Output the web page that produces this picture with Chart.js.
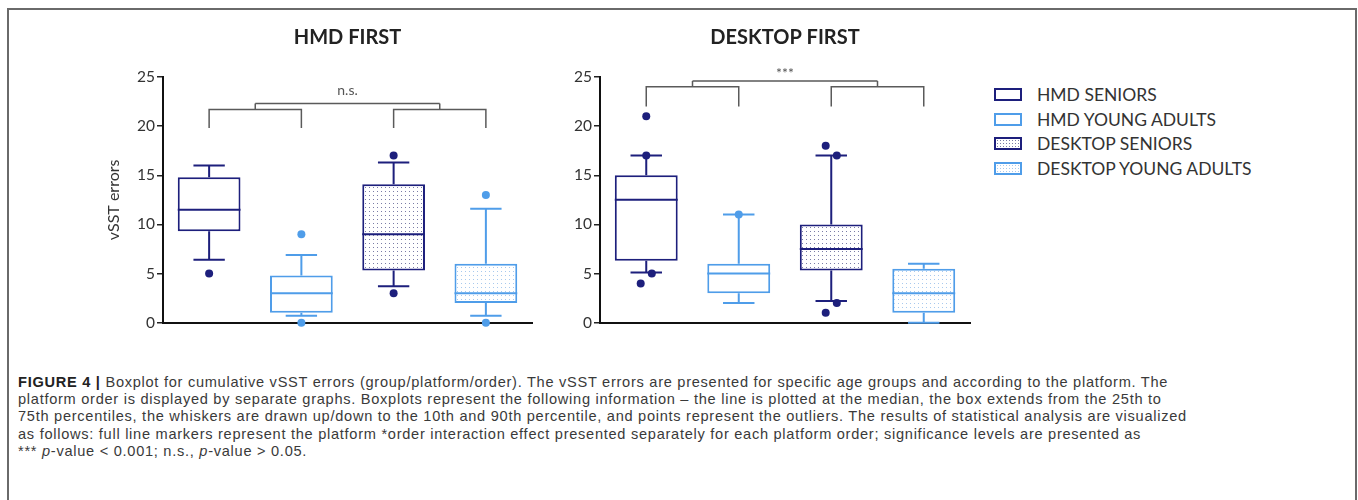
<!DOCTYPE html>
<html lang="en">
<head>
  <meta charset="UTF-8">
  <title>Figure 4 - cumulative vSST errors</title>
  <script src="https://cdn.jsdelivr.net/npm/chart.js"></script>
  <style>
    body {
      margin: 0;
      width: 1358px;
      height: 500px;
      background: #fff;
      position: relative;
      overflow: hidden;
      font-family: Lato, sans-serif;
    }
    .frame {
      position: absolute;
      left: 7px;
      top: 8px;
      width: 1346px;
      height: 500px;
      border: 2px solid #6a6a6a;
      border-bottom: none;
    }
    .plot { position: absolute; top: 14px; height: 320px; }
    #hmdWrap { left: 60px; width: 480px; }
    #dskWrap { left: 545px; width: 435px; }

    .legend { position: absolute; left: 994px; top: 82px; }
    .legend .row {
      height: 24.7px;
      display: flex;
      align-items: center;
      font-size: 17.5px;
      color: #333;
    }
    .swatch {
      width: 28px;
      height: 13px;
      box-sizing: border-box;
      border: 2px solid;
      margin-right: 15px;
      background: #fff;
    }
    .caption {
      position: absolute;
      left: 18px;
      top: 374px;
      font-family: "Liberation Sans", Arial, sans-serif;
      font-size: 14.6px;
      letter-spacing: 0.72px;
      line-height: 17.2px;
      color: #3a3a3a;
      white-space: nowrap;
    }
    .caption b { color: #222; }
  </style>
</head>
<body>
  <div class="frame"></div>
  <div class="plot" id="hmdWrap"><canvas id="hmdChart"></canvas></div>
  <div class="plot" id="dskWrap"><canvas id="dskChart"></canvas></div>

  <div class="legend" id="legend"></div>

  <div class="caption">
    <div><b>FIGURE 4 |</b> Boxplot for cumulative vSST errors (group/platform/order). The vSST errors are presented for specific age groups and according to the platform. The</div>
    <div>platform order is displayed by separate graphs. Boxplots represent the following information – the line is plotted at the median, the box extends from the 25th to</div>
    <div>75th percentiles, the whiskers are drawn up/down to the 10th and 90th percentile, and points represent the outliers. The results of statistical analysis are visualized</div>
    <div>as follows: full line markers represent the platform *order interaction effect presented separately for each platform order; significance levels are presented as</div>
    <div>*** <i>p</i>-value &lt; 0.001; n.s., <i>p</i>-value &gt; 0.05.</div>
  </div>

  <script>
    // groups, in plotting order
    const groups = ['HMD SENIORS', 'HMD YOUNG ADULTS', 'DESKTOP SENIORS', 'DESKTOP YOUNG ADULTS'];
    const groupIndex = [0, 1, 2, 3];
    const yTicks = [0, 5, 10, 15, 20, 25];

    // HMD FIRST (10th, 25th, median, 75th, 90th percentile)
    const hmdLow = [6.4, 0.7, 3.7, 0.7];
    const hmdQ1 = [9.3, 1.0, 5.3, 2.0];
    const hmdMedian = [11.5, 3.0, 9.0, 3.0];
    const hmdQ3 = [14.8, 4.8, 14.1, 6.0];
    const hmdHigh = [16.0, 6.9, 16.3, 11.6];
    const hmdOutX = [0, 1, 1, 2, 2, 3, 3];
    const hmdOutY = [5, 9, 0, 17, 3, 13, 0];

    // DESKTOP FIRST
    const dskLow = [5.1, 2.0, 2.2, 0];
    const dskQ1 = [6.3, 3.0, 5.3, 1.0];
    const dskMedian = [12.5, 5.0, 7.5, 3.0];
    const dskQ3 = [15.0, 6.0, 10.0, 5.5];
    const dskHigh = [17.0, 11.0, 17.0, 6.0];
    const dskOutX = [0, 0, -0.06, 0.06, 1, 1.94, 2.06, 2.06, 1.94];
    const dskOutY = [21, 17, 4, 5, 11, 18, 17, 2, 1];

    // significance brackets: leg bottom, arm level, top level, label level
    const hmdBracket = [19.8, 21.7, 22.3, 23.2];
    const dskBracket = [22.0, 24.0, 24.6, 24.85];
    const hmdSig = 'n.s.';
    const dskSig = '***';

    const DARK = '#1d1f7c';
    const LIGHT = '#4f9de9';
    const boxColors = [DARK, LIGHT, DARK, LIGHT];

    function dotPattern(dot) {
      const c = document.createElement('canvas');
      c.width = 4; c.height = 4;
      const g = c.getContext('2d');
      g.fillStyle = '#fff';
      g.fillRect(0, 0, 4, 4);
      g.fillStyle = dot;
      g.fillRect(1, 1, 1, 1);
      return g.createPattern(c, 'repeat');
    }
    const darkDots = dotPattern('#7a7ca6');
    const lightDots = dotPattern('#a8c9ee');
    const boxFills = ['#fff', '#fff', darkDots, lightDots];

    function boxPlugin(low, med, high, bracket, sig) {
      return {
        id: 'boxParts',
        afterDatasetDraw(chart, args) {
          if (args.meta.type !== 'bar') return;
          const ctx = chart.ctx, x = chart.scales.x, y = chart.scales.y;
          const bars = args.meta.data;
          ctx.save();
          ctx.lineWidth = 2;
          bars.forEach((bar, i) => {
            const cx = x.getPixelForValue(i);
            const half = bar.width / 2;
            const cap = (x.getPixelForValue(1) - x.getPixelForValue(0)) * 0.17;
            const top = Math.min(bar.y, bar.base), bottom = Math.max(bar.y, bar.base);
            ctx.strokeStyle = boxColors[i];
            ctx.beginPath();
            // whiskers
            ctx.moveTo(cx, top); ctx.lineTo(cx, y.getPixelForValue(high[i]));
            ctx.moveTo(cx - cap, y.getPixelForValue(high[i])); ctx.lineTo(cx + cap, y.getPixelForValue(high[i]));
            ctx.moveTo(cx, bottom); ctx.lineTo(cx, y.getPixelForValue(low[i]));
            ctx.moveTo(cx - cap, y.getPixelForValue(low[i])); ctx.lineTo(cx + cap, y.getPixelForValue(low[i]));
            // median
            ctx.moveTo(cx - half, y.getPixelForValue(med[i])); ctx.lineTo(cx + half, y.getPixelForValue(med[i]));
            ctx.stroke();
          });
          ctx.restore();
        },
        afterDraw(chart) {
          const ctx = chart.ctx, x = chart.scales.x, y = chart.scales.y;
          const leg = y.getPixelForValue(bracket[0]);
          const arm = y.getPixelForValue(bracket[1]);
          const tp = y.getPixelForValue(bracket[2]);
          ctx.save();
          ctx.strokeStyle = '#5a5a5a';
          ctx.lineWidth = 1.5;
          ctx.beginPath();
          [[0, 1], [2, 3]].forEach(([a, b]) => {
            const xa = x.getPixelForValue(a), xb = x.getPixelForValue(b);
            ctx.moveTo(xa, leg); ctx.lineTo(xa, arm); ctx.lineTo(xb, arm); ctx.lineTo(xb, leg);
            const mid = x.getPixelForValue((a + b) / 2);
            ctx.moveTo(mid, arm); ctx.lineTo(mid, tp);
          });
          ctx.moveTo(x.getPixelForValue(0.5), tp); ctx.lineTo(x.getPixelForValue(2.5), tp);
          ctx.stroke();
          ctx.fillStyle = '#555';
          ctx.font = '14px Lato, sans-serif';
          ctx.textAlign = 'center';
          ctx.textBaseline = 'alphabetic';
          ctx.fillText(sig, x.getPixelForValue(1.5), y.getPixelForValue(bracket[3]));
          ctx.restore();
        }
      };
    }

    function makeChart(id, title, q1, q3, low, med, high, outX, outY, bracket, sig, opts) {
      const outColors = outX.map(v => boxColors[Math.round(v)]);
      return new Chart(document.getElementById(id), {
        type: 'bar',
        data: {
          datasets: [{
            order: 1,
            label: 'box',
            data: q1.map((v, i) => ({ x: groupIndex[i], y: [v, q3[i]] })),
            backgroundColor: boxFills,
            borderColor: boxColors,
            borderWidth: 2,
            borderSkipped: false,
            categoryPercentage: 1,
            barPercentage: 0.68
          }, {
            order: 0,
            type: 'scatter',
            label: 'outliers',
            data: outX.map((v, i) => ({ x: v, y: outY[i] })),
            backgroundColor: outColors,
            borderWidth: 0,
            pointRadius: 4,
            clip: false
          }]
        },
        options: {
          responsive: true,
          maintainAspectRatio: false,
          animation: false,
          layout: { padding: { left: opts.padLeft, right: opts.padRight, top: 0, bottom: 3 } },
          plugins: {
            legend: { display: false },
            tooltip: { enabled: false },
            title: {
              display: true,
              text: title,
              fullSize: false,
              color: '#222',
              font: { family: 'Lato', size: 20, weight: 'bold' },
              padding: { top: 12, bottom: 27 }
            }
          },
          scales: {
            x: {
              type: 'linear',
              min: -0.5,
              max: 3.5,
              offset: false,
              afterBuildTicks: s => { s.ticks = groupIndex.map(v => ({ value: v })); },
              ticks: { display: false },
              grid: { display: false },
              border: { display: true, color: '#111', width: 2 }
            },
            y: {
              min: 0,
              max: 25,
              afterBuildTicks: s => { s.ticks = yTicks.map(v => ({ value: v })); },
              afterFit: s => { s.width = opts.yWidth; },
              ticks: { color: '#333', padding: 2, font: { family: 'Lato', size: 15.5 } },
              grid: { drawOnChartArea: false, drawTicks: true, tickLength: 6, color: '#222', lineWidth: 1.5 },
              border: { display: true, color: '#111', width: 2 },
              title: {
                display: opts.axisTitle,
                text: 'vSST errors',
                color: '#333',
                font: { family: 'Lato', size: 16 }
              }
            }
          }
        },
        plugins: [boxPlugin(low, med, high, bracket, sig)]
      });
    }

    makeChart('hmdChart', 'HMD FIRST', hmdQ1, hmdQ3, hmdLow, hmdMedian, hmdHigh, hmdOutX, hmdOutY,
      hmdBracket, hmdSig, { padLeft: 40, padRight: 8, yWidth: 63, axisTitle: true });
    makeChart('dskChart', 'DESKTOP FIRST', dskQ1, dskQ3, dskLow, dskMedian, dskHigh, dskOutX, dskOutY,
      dskBracket, dskSig, { padLeft: 0, padRight: 10, yWidth: 55, axisTitle: false });

    // shared legend
    const legendSwatch = [
      'background:#fff',
      'background:#fff',
      'background-color:#fff;background-image:radial-gradient(#7a7ca6 0.6px, transparent 0.8px);background-size:3px 3px',
      'background-color:#fff;background-image:radial-gradient(#a8c9ee 0.6px, transparent 0.8px);background-size:3px 3px'
    ];
    document.getElementById('legend').innerHTML = groups.map((g, i) =>
      `<div class="row"><span class="swatch" style="border-color:${boxColors[i]};${legendSwatch[i]}"></span>${g}</div>`
    ).join('');
  </script>
</body>
</html>
